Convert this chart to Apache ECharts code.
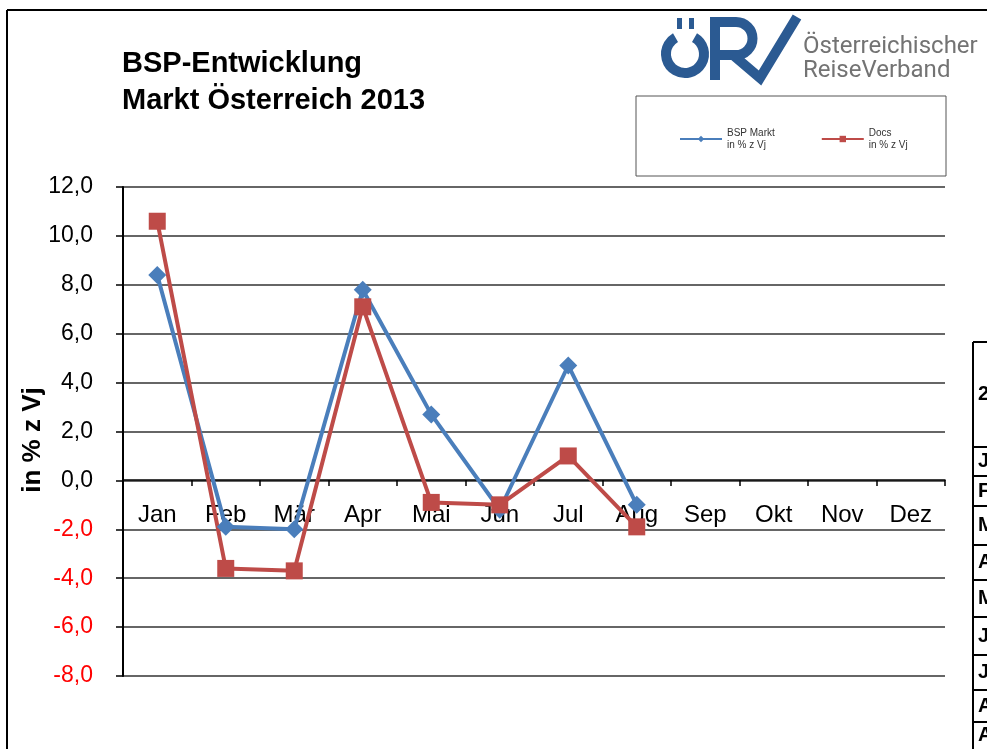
<!DOCTYPE html>
<html>
<head>
<meta charset="utf-8">
<title>BSP-Entwicklung Markt Österreich 2013</title>
<script src="https://cdn.jsdelivr.net/npm/echarts@6/dist/echarts.min.js"></script>
<style>
  html, body { margin: 0; padding: 0; background: #fff; }
  #chart { width: 987px; height: 749px; }
</style>
</head>
<body>
<div id="chart"></div>
<script>
// Monate (x-Achse)
const months = ['Jan', 'Feb', 'Mär', 'Apr', 'Mai', 'Jun', 'Jul', 'Aug', 'Sep', 'Okt', 'Nov', 'Dez']
// Veränderung in % zum Vorjahr, nur Jan-Aug vorhanden
const bspMarkt = [8.4, -1.9, -2.0, 7.8, 2.7, -1.2, 4.7, -1.0]
const docs = [10.6, -3.6, -3.7, 7.1, -0.9, -1.0, 1.0, -1.9]
// Reihen der angeschnittenen Tabelle rechts
const tableRows = ['2', 'J', 'F', 'M', 'A', 'M', 'J', 'J', 'A', 'A']

const blue = '#4a7ebb'
const red = '#be4b48'
const logoBlue = '#2b5a92'
const font = '"Liberation Sans", Arial, sans-serif'

const chart = echarts.init(document.getElementById('chart'), null, { renderer: 'canvas' })

// Tabelle rechts (nur Linien + angeschnittene Buchstaben)
const rowLines = [342, 447, 476, 506, 545, 580, 617, 655, 690, 722]
const tableGraphics = []
tableGraphics.push({ type: 'line', shape: { x1: 973, y1: 342, x2: 973, y2: 749 }, style: { stroke: '#000', lineWidth: 2 } })
rowLines.forEach(y => {
  tableGraphics.push({ type: 'line', shape: { x1: 973, y1: y, x2: 987, y2: y }, style: { stroke: '#000', lineWidth: 2 } })
})
tableRows.forEach((t, i) => {
  const top = rowLines[i]
  const bottom = i + 1 < rowLines.length ? rowLines[i + 1] : 749
  tableGraphics.push({
    type: 'text', x: 978, y: (top + bottom) / 2,
    style: { text: t, font: 'bold 20px ' + font, fill: '#000', verticalAlign: 'middle' }
  })
})

const option = {
  backgroundColor: '#fff',
  animation: false,
  grid: { left: 123, right: 42, top: 187, bottom: 73 },
  legend: {
    left: 674,
    top: 122,
    itemWidth: 42,
    itemHeight: 8,
    itemGap: 46,
    textStyle: { fontSize: 10, color: '#333', fontFamily: font, lineHeight: 12 },
    data: ['BSP Markt\nin % z Vj', 'Docs\nin % z Vj']
  },
  xAxis: {
    type: 'category',
    data: months,
    boundaryGap: true,
    position: 'bottom',
    offset: -196,  // Achse auf Höhe der Nulllinie
    axisLine: { onZero: false, lineStyle: { color: '#000', width: 1.5 } },
    axisTick: { show: true, interval: 0, length: 6, lineStyle: { color: '#000', width: 1.5 } },
    axisLabel: { interval: 0, margin: 23, fontSize: 24, color: '#000', fontFamily: font }
  },
  yAxis: {
    type: 'value',
    min: -8,
    max: 12,
    interval: 2,
    axisLine: { show: true, lineStyle: { color: '#000', width: 2 } },
    axisTick: { show: true, length: 7, lineStyle: { color: '#000', width: 1.5 } },
    axisLabel: {
      margin: 30,
      fontSize: 23,
      fontFamily: font,
      formatter: v => v.toFixed(1).replace('.', ','),
      color: v => (Number(v) < 0 ? '#ff0000' : '#000')
    },
    splitLine: { show: true, lineStyle: { color: '#333', width: 1.5 } }
  },
  series: [
    {
      name: 'BSP Markt\nin % z Vj',
      type: 'line',
      data: bspMarkt,
      symbol: 'diamond',
      symbolSize: 18,
      lineStyle: { color: blue, width: 4 },
      itemStyle: { color: blue }
    },
    {
      name: 'Docs\nin % z Vj',
      type: 'line',
      data: docs,
      symbol: 'rect',
      symbolSize: 17,
      lineStyle: { color: red, width: 4 },
      itemStyle: { color: red }
    }
  ],
  graphic: [
    // Rahmen links und oben
    { type: 'line', shape: { x1: 7, y1: 10, x2: 7, y2: 749 }, style: { stroke: '#000', lineWidth: 2 } },
    { type: 'line', shape: { x1: 7, y1: 10, x2: 987, y2: 10 }, style: { stroke: '#000', lineWidth: 2 } },
    // Titel
    {
      type: 'text', left: 122, top: 45,
      style: { text: 'BSP-Entwicklung\nMarkt Österreich 2013', font: 'bold 29px ' + font, fill: '#000', lineHeight: 37 }
    },
    // Achsentitel
    {
      type: 'text', x: 33, y: 440, rotation: Math.PI / 2,
      style: { text: 'in % z Vj', font: 'bold 26px ' + font, fill: '#000', align: 'center', verticalAlign: 'middle' }
    },
    // Legendenkasten
    { type: 'rect', shape: { x: 636, y: 96, width: 310, height: 80 }, style: { fill: 'none', stroke: '#555', lineWidth: 1 }, z: -1 },
    // Logo ÖRV
    { type: 'arc', shape: { cx: 685, cy: 54, r: 19, startAngle: -Math.PI / 3, endAngle: -2 * Math.PI / 3, clockwise: true }, style: { stroke: logoBlue, lineWidth: 10, fill: 'none' } },
    { type: 'rect', shape: { x: 677, y: 18, width: 5, height: 11 }, style: { fill: logoBlue } },
    { type: 'rect', shape: { x: 689, y: 18, width: 5, height: 11 }, style: { fill: logoBlue } },
    { type: 'rect', shape: { x: 710, y: 17, width: 10, height: 63 }, style: { fill: logoBlue } },
    { type: 'line', shape: { x1: 714, y1: 22, x2: 736, y2: 22 }, style: { stroke: logoBlue, lineWidth: 10 } },
    { type: 'line', shape: { x1: 714, y1: 55, x2: 736, y2: 55 }, style: { stroke: logoBlue, lineWidth: 10 } },
    { type: 'arc', shape: { cx: 736, cy: 38.5, r: 16.5, startAngle: -Math.PI / 2, endAngle: Math.PI / 2, clockwise: true }, style: { stroke: logoBlue, lineWidth: 10, fill: 'none' } },
    { type: 'polyline', shape: { points: [[733, 55], [760, 78], [797, 17]] }, style: { stroke: logoBlue, lineWidth: 10, fill: 'none', lineJoin: 'miter' } },
    {
      type: 'text', x: 803, y: 47,
      style: { text: 'Österreichischer', font: '24px Roboto, sans-serif', fill: '#737373', verticalAlign: 'middle' }
    },
    {
      type: 'text', x: 803, y: 71,
      style: { text: 'ReiseVerband', font: '24px Roboto, sans-serif', fill: '#737373', verticalAlign: 'middle' }
    }
  ].concat(tableGraphics)
}

chart.setOption(option)
</script>
</body>
</html>
